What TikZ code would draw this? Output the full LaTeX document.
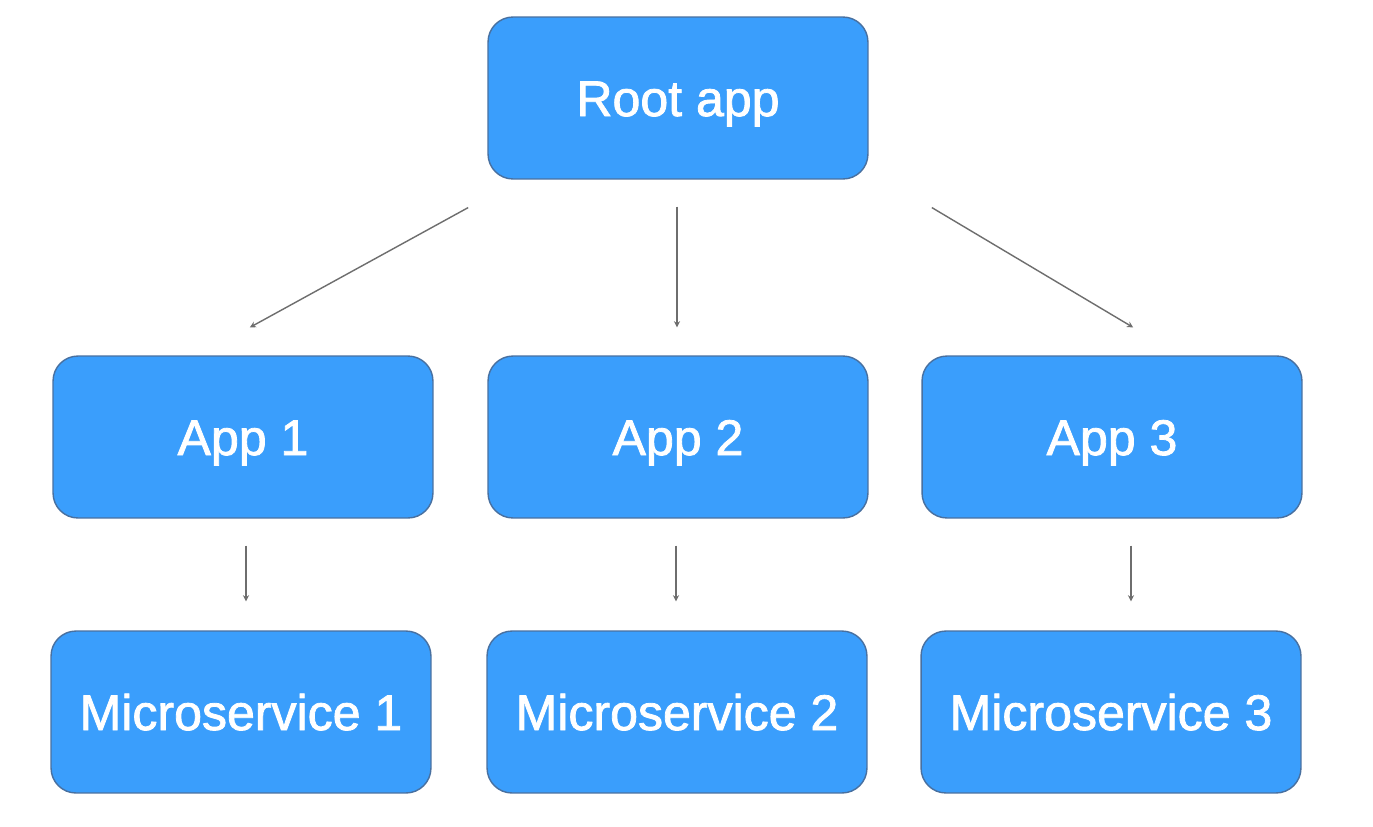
\documentclass[tikz,border=0pt]{standalone}
\usepackage{fontspec}
\setmainfont{Liberation Sans}[BoldFont=Liberation Sans,BoldFeatures={FakeBold=1.6}]
\usetikzlibrary{arrows.meta,calc}
\definecolor{boxblue}{RGB}{58,158,252}
\definecolor{boxedge}{RGB}{72,112,160}
\definecolor{linkgray}{RGB}{110,110,110}
\begin{document}
\begin{tikzpicture}[>={Stealth[length=3.5pt,width=3.5pt]},x=0.02cm,y=-0.02cm,
	box/.style={draw=boxedge,line width=0.8pt,fill=boxblue,rounded corners=0.5cm,
		minimum width=7.6cm,minimum height=3.24cm,inner sep=0pt,text=white,
		text height=20.5pt,text depth=0pt,
		font=\fontsize{28.5}{32}\selectfont\bfseries},
	link/.style={->,draw=linkgray,line width=0.8pt}]
	\useasboundingbox[fill=white] (0,0) rectangle (1373,826);
	\node[box] (root) at (678,98) {Root app};
	\node[box] (app1) at (243,437) {App 1};
	\node[box] (app2) at (678,437) {App 2};
	\node[box] (app3) at (1112,437) {App 3};
	\node[box] (ms1) at (241,712) {Microservice 1};
	\node[box] (ms2) at (677,712) {Microservice 2};
	\node[box] (ms3) at (1111,712) {Microservice 3};
	\draw[link,shorten <=1.16cm,shorten >=1.16cm] ($(root.south)+(-159,0)$)--($(app1.north)+(-44,0)$);
	\draw[link,shorten <=0.54cm,shorten >=0.56cm] ($(root.south)+(-1,0)$)--($(app2.north)+(-1,0)$);
	\draw[link,shorten <=1.09cm,shorten >=1.09cm] ($(root.south)+(207,0)$)--($(app3.north)+(68,0)$);
	\draw[link,shorten <=0.54cm,shorten >=0.58cm] ($(app1.south)+(3,0)$)--($(app1.south |- ms1.north)+(3,0)$);
	\draw[link,shorten <=0.54cm,shorten >=0.58cm] ($(app2.south)+(-2,0)$)--($(app2.south |- ms2.north)+(-2,0)$);
	\draw[link,shorten <=0.54cm,shorten >=0.58cm] ($(app3.south)+(19,0)$)--($(app3.south |- ms3.north)+(19,0)$);
\end{tikzpicture}
\end{document}
